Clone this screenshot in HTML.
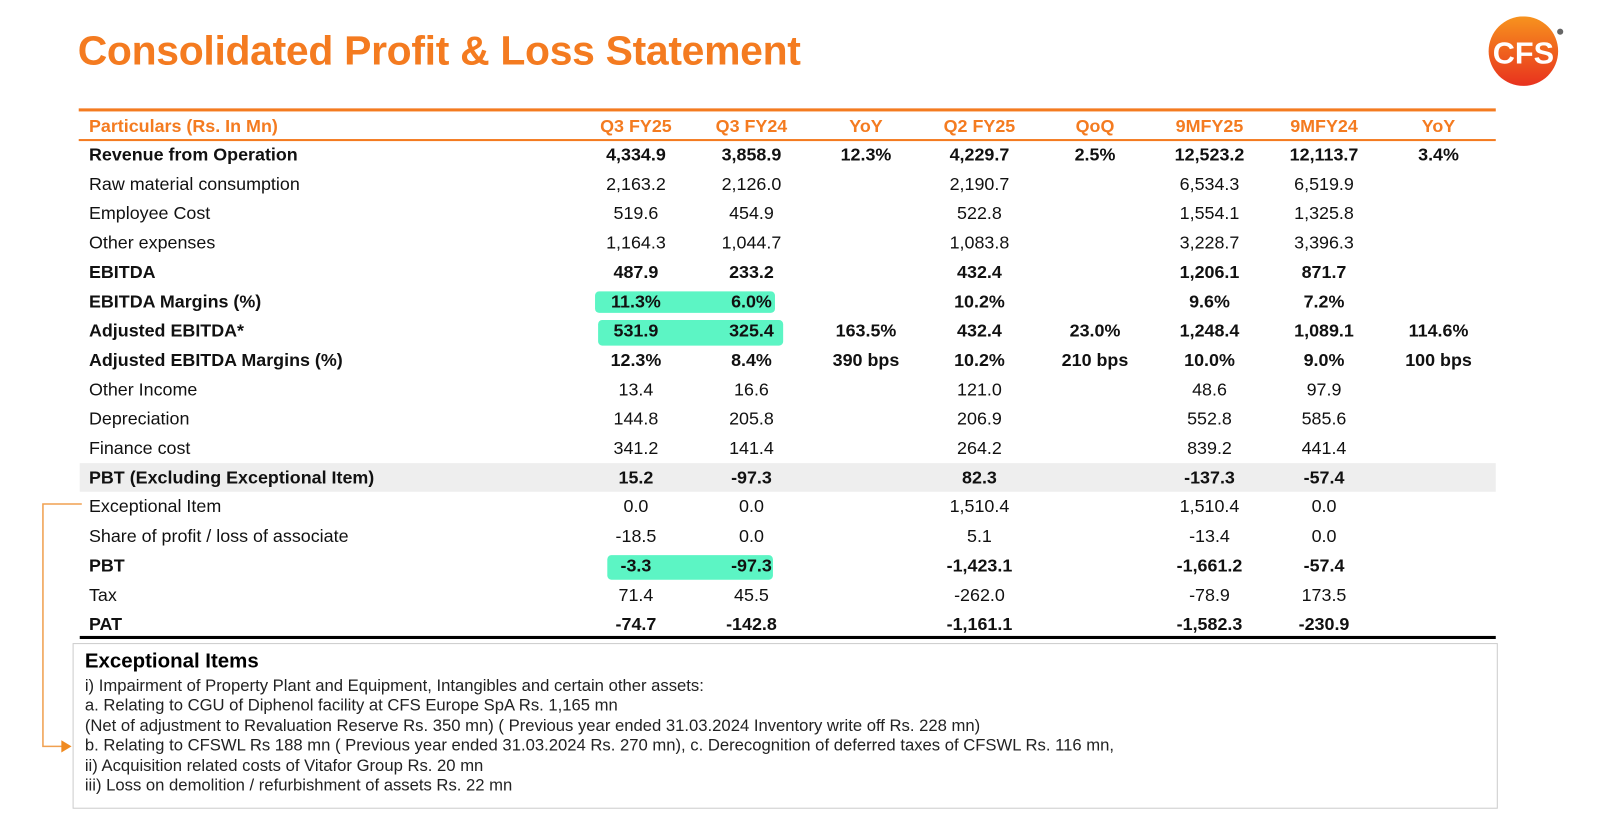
<!DOCTYPE html>
<html><head><meta charset="utf-8"><style>
body{margin:0;width:1601px;height:819px;background:#fff;position:relative;overflow:hidden;font-family:"Liberation Sans",sans-serif;}
#w{position:absolute;left:0;top:0;width:1566px;height:801px;transform:scale(1.0224);transform-origin:0 0}
.t{position:absolute;left:76px;top:28px;font-size:40px;font-weight:bold;color:#f47b20;letter-spacing:-0.3px}
.r{position:absolute;left:78px;width:1385px;height:28px;font-size:17.5px;color:#111}
.r span{position:absolute;top:4px;white-space:nowrap}
.r .l{left:9px}
.r .v{width:112px;text-align:center}
.hl{position:absolute;background:#5cf5c4}
.note{position:absolute;left:71px;top:629px;width:1394px;height:162px;border:1px solid #ccc;box-sizing:border-box}
.note div{position:absolute;left:11px;font-size:16.3px;color:#222;white-space:nowrap}
</style></head><body><div id="w">
<div class="t">Consolidated Profit &amp; Loss Statement</div>
<svg style="position:absolute;left:1454px;top:16px" width="80" height="72">
<defs><linearGradient id="g" x1="0" y1="0" x2="0" y2="1"><stop offset="0" stop-color="#f7931e"/><stop offset="1" stop-color="#e8321e"/></linearGradient></defs>
<circle cx="36" cy="34" r="34" fill="url(#g)"/>
<text x="36" y="46" text-anchor="middle" font-family="Liberation Sans" font-weight="bold" font-size="30" fill="#fff">CFS</text>
<circle cx="72" cy="15" r="3" fill="#666"/></svg>
<div style="position:absolute;left:77px;top:106px;width:1386px;height:3px;background:#f47b20"></div>
<div style="position:absolute;left:77px;top:136px;width:1386px;height:2px;background:#f47b20"></div>
<div style="position:absolute;left:78px;top:453px;width:1385px;height:28px;background:#eeeeee"></div>
<div style="position:absolute;left:78px;top:622px;width:1385px;height:3px;background:#000"></div>
<div class="hl" style="left:582px;top:285px;width:176px;height:21px;border-radius:4px"></div>
<div class="hl" style="left:585px;top:313px;width:181px;height:25px;border-radius:4px"></div>
<div class="hl" style="left:594px;top:543px;width:162px;height:24px;border-radius:4px"></div>
<svg style="position:absolute;left:0;top:0" width="100" height="819"><path d="M80 493H42V730H62" stroke="#f0a050" stroke-width="1.5" fill="none"/><path d="M60 724L70 730L60 736Z" fill="#f08a20"/></svg>
<div id="rows"></div>
<div class="note">
<div style="top:6px;font-size:20px;font-weight:bold;color:#000">Exceptional Items</div>
<div style="top:32px">i) Impairment of Property Plant and Equipment, Intangibles and certain other assets:</div>
<div style="top:51px">a. Relating to CGU of Diphenol facility at CFS Europe SpA Rs. 1,165 mn</div>
<div style="top:71px">(Net of adjustment to Revaluation Reserve Rs. 350 mn) ( Previous year ended 31.03.2024 Inventory write off Rs. 228 mn)</div>
<div style="top:90px">b. Relating to CFSWL Rs 188 mn ( Previous year ended 31.03.2024 Rs. 270 mn), c. Derecognition of deferred taxes of CFSWL Rs. 116 mn,</div>
<div style="top:110px">ii) Acquisition related costs of Vitafor Group Rs. 20 mn</div>
<div style="top:129px">iii) Loss on demolition / refurbishment of assets Rs. 22 mn</div>
</div>
</div>
<script>
var cx=[622,735,847,958,1071,1183,1295,1407];
var rows=[
["Particulars (Rs. In Mn)","Q3 FY25","Q3 FY24","YoY","Q2 FY25","QoQ","9MFY25","9MFY24","YoY",2],
["Revenue from Operation","4,334.9","3,858.9","12.3%","4,229.7","2.5%","12,523.2","12,113.7","3.4%",1],
["Raw material consumption","2,163.2","2,126.0","","2,190.7","","6,534.3","6,519.9","",0],
["Employee Cost","519.6","454.9","","522.8","","1,554.1","1,325.8","",0],
["Other expenses","1,164.3","1,044.7","","1,083.8","","3,228.7","3,396.3","",0],
["EBITDA","487.9","233.2","","432.4","","1,206.1","871.7","",1],
["EBITDA Margins (%)","11.3%","6.0%","","10.2%","","9.6%","7.2%","",1],
["Adjusted EBITDA*","531.9","325.4","163.5%","432.4","23.0%","1,248.4","1,089.1","114.6%",1],
["Adjusted EBITDA Margins (%)","12.3%","8.4%","390 bps","10.2%","210 bps","10.0%","9.0%","100 bps",1],
["Other Income","13.4","16.6","","121.0","","48.6","97.9","",0],
["Depreciation","144.8","205.8","","206.9","","552.8","585.6","",0],
["Finance cost","341.2","141.4","","264.2","","839.2","441.4","",0],
["PBT (Excluding Exceptional Item)","15.2","-97.3","","82.3","","-137.3","-57.4","",1],
["Exceptional Item","0.0","0.0","","1,510.4","","1,510.4","0.0","",0],
["Share of profit / loss of associate","-18.5","0.0","","5.1","","-13.4","0.0","",0],
["PBT","-3.3","-97.3","","-1,423.1","","-1,661.2","-57.4","",1],
["Tax","71.4","45.5","","-262.0","","-78.9","173.5","",0],
["PAT","-74.7","-142.8","","-1,161.1","","-1,582.3","-230.9","",1]];
var h="";
rows.forEach(function(r,i){
 var top=i==0?109:137+(i-1)*28.7;
 var st=r[9]==2?"color:#f47b20;font-weight:bold":(r[9]==1?"font-weight:bold":"");
 h+='<div class="r" style="top:'+top+'px;'+st+'"><span class="l">'+r[0]+'</span>';
 for(var j=0;j<8;j++)h+='<span class="v" style="left:'+(cx[j]-78-56)+'px">'+r[j+1]+'</span>';
 h+='</div>';});
document.getElementById("rows").innerHTML=h;
</script>
</body></html>
